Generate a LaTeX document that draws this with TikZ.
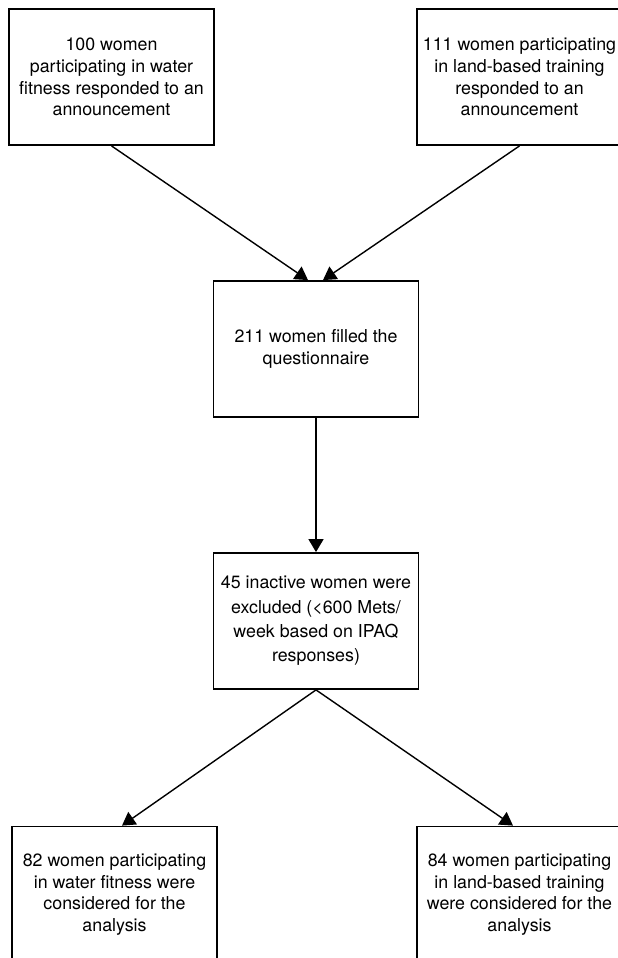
\documentclass[tikz,border=0pt]{standalone}
\usepackage{fontspec}
\setmainfont{TeX Gyre Heros}
\usepackage{tikz}
\usetikzlibrary{positioning,shapes,arrows.meta,calc}
\tikzstyle{stage}=[rectangle, draw=black, line width=1.8pt, minimum width=205pt, minimum height=136pt, align=center, inner sep=0pt, font=\fontsize{17.8}{21.7}\selectfont]
\tikzstyle{myarrow}=[-{Triangle[width=15pt,length=13pt]}, line width=1.4pt]

\begin{document}
\begin{tikzpicture}[node distance=272pt]
        \path[use as bounding box] (-111.5pt,77pt) rectangle (506.5pt,-881pt);
        \clip (-111.5pt,77pt) rectangle (506.5pt,-881pt);

        % Recruitment
        \node (water) [stage] {100 women\\participating in water\\fitness responded to an\\announcement};
        \node (land) [stage, right of=water, node distance=408pt] {111 women participating\\in land-based training\\responded to an\\announcement};

        % Screening
        \node (filled) [stage, below of=water, xshift=204.5pt] {211 women filled the\\questionnaire};
        \node (inactive) [stage, below of=filled, font=\fontsize{17.8}{24.3}\selectfont] {45 inactive women were\\excluded (<600 Mets/\\week based on IPAQ\\responses)};

        % Analysis
        \node (water_final) [stage, below of=inactive, node distance=273.5pt, xshift=-201.5pt] {82 women participating\\in water fitness were\\considered for the\\analysis};
        \node (land_final) [stage, right of=water_final, node distance=405pt] {84 women participating\\in land-based training\\were considered for the\\analysis};

        \draw[myarrow] (water.south) -- ($(filled.north)-(8pt,0)$);
        \draw[myarrow] (land.south) -- ($(filled.north)+(7pt,0)$);
        \draw[myarrow] (filled.south) -- (inactive.north);
        \draw[myarrow] (inactive.south) -- ($(water_final.north)+(7.5pt,0)$);
        \draw[myarrow] (inactive.south) -- ($(land_final.north)-(6.5pt,0)$);
\end{tikzpicture}
\end{document}
